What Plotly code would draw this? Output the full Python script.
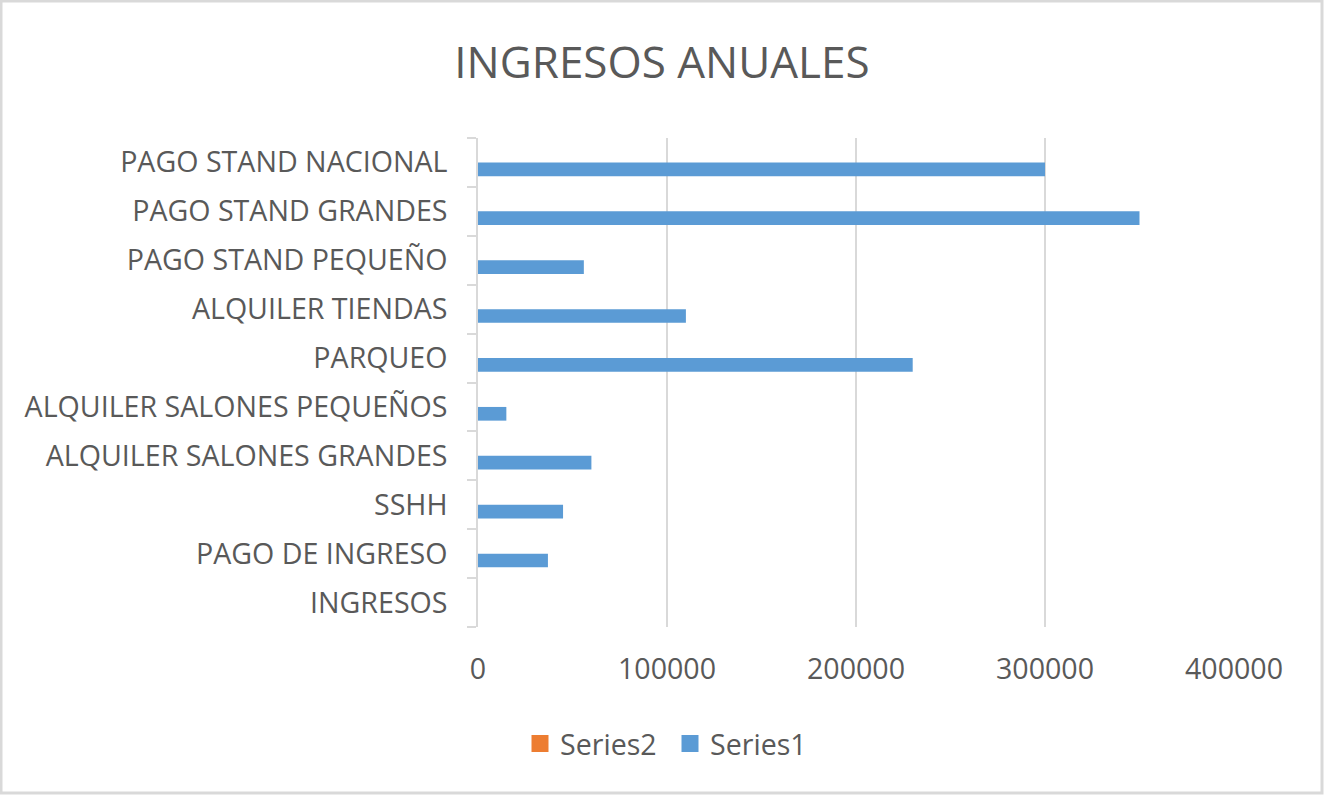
import plotly.graph_objects as go

# categories, bottom to top as in the sheet
categorias = [
    "INGRESOS",
    "PAGO DE INGRESO",
    "SSHH",
    "ALQUILER SALONES GRANDES",
    "ALQUILER SALONES PEQUEÑOS",
    "PARQUEO",
    "ALQUILER TIENDAS",
    "PAGO STAND PEQUEÑO",
    "PAGO STAND GRANDES",
    "PAGO STAND NACIONAL",
]
series1 = [None, 37000, 45000, 60000, 15000, 230000, 110000, 56000, 350000, 300000]
series2 = [None, None, None, None, None, None, None, None, None, None]
x_ticks = [0, 100000, 200000, 300000, 400000]

GRIS = "#595959"
LINEA = "#d9d9d9"
AZUL = "#5B9BD5"
NARANJA = "#ED7D31"

fig = go.Figure()
fig.add_trace(go.Bar(y=categorias, x=series1, name="Series1", orientation="h",
                     marker=dict(color=AZUL, line=dict(width=0)), showlegend=False))
fig.add_trace(go.Bar(y=categorias, x=series2, name="Series2", orientation="h",
                     marker=dict(color=NARANJA, line=dict(width=0)), showlegend=False))
# legend entries with bigger square swatches, like excel
fig.add_trace(go.Scatter(x=[None], y=[None], mode="markers", name="Series1",
                         marker=dict(symbol="square", size=14, color=AZUL,
                                     line=dict(width=3, color=AZUL))))
fig.add_trace(go.Scatter(x=[None], y=[None], mode="markers", name="Series2",
                         marker=dict(symbol="square", size=14, color=NARANJA,
                                     line=dict(width=3, color=NARANJA))))

# plot area in pixels
L, R, T, B = 478, 90, 138, 168
W, H = 1324, 795
pw, ph = W - L - R, H - T - B

fig.update_layout(
    width=W, height=H,
    margin=dict(l=L, r=R, t=T, b=B),
    paper_bgcolor="white", plot_bgcolor="white",
    font=dict(family="Open Sans", size=28.6, color=GRIS),
    title=dict(text="INGRESOS ANUALES", x=0.5, xref="container", xanchor="center",
               y=1 - 63 / H, yref="container", yanchor="middle",
               font=dict(size=44, color=GRIS)),
    barmode="group", bargap=0.44, bargroupgap=0,
    showlegend=True,
    legend=dict(orientation="h", x=(670 - L) / pw, xanchor="center",
                y=-(744 - (H - B)) / ph, yanchor="middle", itemsizing="trace",
                entrywidth=105, traceorder="reversed",
                font=dict(size=28.6, color=GRIS)),
    shapes=[dict(type="rect", xref="paper", yref="paper",
                 x0=(1 - L) / pw, x1=(1322 - L) / pw,
                 y0=((H - B) - 793) / ph, y1=((H - B) - 1) / ph,
                 line=dict(color=LINEA, width=3))],
)
fig.update_xaxes(range=[0, 400000], tickvals=x_ticks, tickformat="d",
                 showgrid=True, gridcolor=LINEA, gridwidth=1.5,
                 zeroline=False, showline=False, ticks="",
                 ticklabelstandoff=22)
fig.update_yaxes(showline=True, linecolor=LINEA, linewidth=1.5,
                 ticks="outside", ticklen=9, tickcolor=LINEA, tickwidth=1.5,
                 tickson="boundaries", showgrid=False, ticklabelstandoff=23)

# page body has an 8px margin by default, drop it so the chart sits at 0,0
fig.write_html("out.html", config={"displayModeBar": False},
               post_script="document.body.style.margin='0';")
